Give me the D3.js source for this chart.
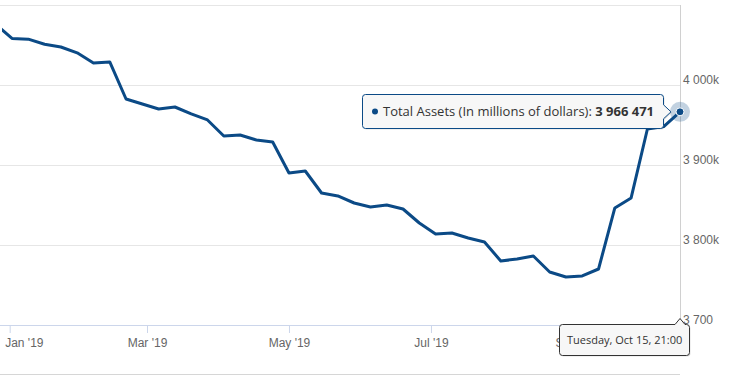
<!DOCTYPE html>
<html>
<head>
<meta charset="utf-8">
<script src="https://cdn.jsdelivr.net/npm/d3@7"></script>
<style>
  body { margin: 0; background: #ffffff; }
  svg { font-family: "Open Sans", "DejaVu Sans", sans-serif; }
</style>
</head>
<body>
<div id="assetsChart"></div>
<script>
// weekly dates (Wednesdays) of the balance sheet
const weekDates = [
  "2018-12-26",
  "2019-01-02", "2019-01-09", "2019-01-16", "2019-01-23", "2019-01-30",
  "2019-02-06", "2019-02-13", "2019-02-20", "2019-02-27",
  "2019-03-06", "2019-03-13", "2019-03-20", "2019-03-27",
  "2019-04-03", "2019-04-10", "2019-04-17", "2019-04-24",
  "2019-05-01", "2019-05-08", "2019-05-15", "2019-05-22", "2019-05-29",
  "2019-06-05", "2019-06-12", "2019-06-19", "2019-06-26",
  "2019-07-03", "2019-07-10", "2019-07-17", "2019-07-24", "2019-07-31",
  "2019-08-07", "2019-08-14", "2019-08-21", "2019-08-28",
  "2019-09-04", "2019-09-11", "2019-09-18", "2019-09-25",
  "2019-10-02", "2019-10-09", "2019-10-16"
];

// total assets, millions of dollars
const totalAssets = [
  4075900,
  4058200, 4057300, 4051000, 4047500, 4040200,
  4027600, 4028800, 3982500, 3976300,
  3970000, 3972500, 3963800, 3956300,
  3936300, 3937500, 3931300, 3928800,
  3890000, 3892500, 3865000, 3861300, 3852500,
  3847500, 3850000, 3845000, 3827500,
  3813800, 3815000, 3808800, 3803800, 3780000,
  3782500, 3786300, 3766300, 3760000,
  3761300, 3770000, 3846300, 3858800,
  3945000, 3948000, 3966471
];

// axis ticks
const xTickDates = ["2019-01-01", "2019-03-01", "2019-05-01", "2019-07-01", "2019-09-01"];
const yTickValues = [3700000, 3800000, 3900000, 4000000, 4100000];
const yTickLabels = ["3 700", "3 800k", "3 900k", "4 000k", ""];

const seriesName = "Total Assets (In millions of dollars)";
const hoverLabel = "Tuesday, Oct 15, 21:00";

//define positional parameters
let svgWidth = 747;
let svgHeight = 375;
let plotLeft = 0;
let plotRight = 680;
let plotTop = 5;
let plotBottom = 325;
let lineColor = "#0b4a86";
let gridColor = "#e6e6e6";
let axisColor = "#ccd6eb";

let parse = d3.utcParse("%Y-%m-%d");
let data = weekDates.map((d, i) => ({date: parse(d), value: totalAssets[i]}));

let svg = d3.select("#assetsChart")
  .append("svg")
  .attr("width", svgWidth)
  .attr("height", svgHeight);

//define scales
let xScale = d3.scaleUtc()
  .domain([parse("2019-01-02"), parse("2019-10-16")])
  .range([12, plotRight]);

let yScale = d3.scaleLinear()
  .domain([3700000, 4100000])
  .range([plotBottom, plotTop]);

//gridlines
svg.append("g")
  .selectAll("line")
  .data(yTickValues.slice(1))
  .join("line")
  .attr("x1", plotLeft)
  .attr("x2", plotRight)
  .attr("y1", d => Math.round(yScale(d)) + 0.5)
  .attr("y2", d => Math.round(yScale(d)) + 0.5)
  .attr("stroke", gridColor);

//right axis line
svg.append("line")
  .attr("x1", plotRight + 0.5)
  .attr("x2", plotRight + 0.5)
  .attr("y1", plotTop)
  .attr("y2", plotBottom)
  .attr("stroke", "#d0d0d0");

//y labels
let yAxis = d3.axisRight(yScale)
  .tickValues(yTickValues)
  .tickSize(0)
  .tickPadding(3)
  .tickFormat((d, i) => yTickLabels[i]);

let yAxisGroup = svg.append("g")
  .attr("transform", `translate(${plotRight},0)`)
  .call(yAxis);
yAxisGroup.select(".domain").remove();
yAxisGroup.selectAll("text")
  .attr("dy", "-0.15em")
  .attr("fill", "#666666")
  .style("font-size", "12px");

//x axis
let xAxis = d3.axisBottom(xScale)
  .tickValues(xTickDates.map(parse))
  .tickSize(8)
  .tickPadding(5)
  .tickFormat(d3.utcFormat("%b '%y"));

let xAxisGroup = svg.append("g")
  .attr("transform", `translate(0,${plotBottom})`)
  .call(xAxis);
xAxisGroup.select(".domain")
  .attr("d", `M${plotLeft},0.5H${plotRight}`)
  .attr("stroke", axisColor);
xAxisGroup.selectAll(".tick line").attr("stroke", axisColor);
xAxisGroup.selectAll("text")
  .attr("fill", "#666666")
  .style("font-size", "12px");
//first label is pushed inside the chart
xAxisGroup.selectAll("text")
  .filter((d, i) => i === 0)
  .attr("text-anchor", "start")
  .attr("x", -5);

//bottom border line
svg.append("line")
  .attr("x1", plotLeft)
  .attr("x2", plotRight)
  .attr("y1", 374.5)
  .attr("y2", 374.5)
  .attr("stroke", "#d6d6d6");

//clip for series
svg.append("clipPath")
  .attr("id", "plotClip")
  .append("rect")
  .attr("x", 2)
  .attr("y", 0)
  .attr("width", plotRight - 2 + 20)
  .attr("height", plotBottom);

//plot line
let line = d3.line()
  .x(d => xScale(d.date))
  .y(d => yScale(d.value));

svg.append("path")
  .datum(data)
  .attr("clip-path", "url(#plotClip)")
  .attr("fill", "none")
  .attr("stroke", lineColor)
  .attr("stroke-width", 3)
  .attr("stroke-linejoin", "round")
  .attr("d", line);

//hovered point
let last = data[data.length - 1];
let px = xScale(last.date);
let py = yScale(last.value);

svg.append("circle")
  .attr("cx", px)
  .attr("cy", py)
  .attr("r", 10)
  .attr("fill", lineColor)
  .attr("fill-opacity", 0.25);

svg.append("circle")
  .attr("cx", px)
  .attr("cy", py)
  .attr("r", 4)
  .attr("fill", lineColor)
  .attr("stroke", "#ffffff")
  .attr("stroke-width", 1);

//tooltip shape with caret, rounded box
function tipPath(x0, y0, x1, y1, r, caret) {
  let p = d3.path();
  p.moveTo(x0 + r, y0);
  if (caret.side === "top") {
    p.lineTo(caret.x - 5, y0);
    p.lineTo(caret.x, caret.tip);
    p.lineTo(caret.x + 5, y0);
  }
  p.lineTo(x1 - r, y0);
  p.arcTo(x1, y0, x1, y0 + r, r);
  if (caret.side === "right") {
    p.lineTo(x1, caret.y - 7);
    p.lineTo(caret.tip, caret.y);
    p.lineTo(x1, caret.y + 7);
  }
  p.lineTo(x1, y1 - r);
  p.arcTo(x1, y1, x1 - r, y1, r);
  p.lineTo(x0 + r, y1);
  p.arcTo(x0, y1, x0, y1 - r, r);
  p.lineTo(x0, y0 + r);
  p.arcTo(x0, y0, x0 + r, y0, r);
  p.closePath();
  return p.toString();
}

function drawTip(pathD, stroke) {
  let g = svg.append("g");
  g.append("path")
    .attr("d", pathD)
    .attr("transform", "translate(1,1)")
    .attr("fill", "#000000")
    .attr("fill-opacity", 0.12);
  g.append("path")
    .attr("d", pathD)
    .attr("fill", "#f7f7f7")
    .attr("stroke", stroke)
    .attr("stroke-width", 1);
  return g;
}

//value tooltip
let tip = drawTip(tipPath(362.5, 94.5, 663.5, 128.5, 3, {side: "right", y: py, tip: 671}), lineColor);
tip.append("circle")
  .attr("cx", 375)
  .attr("cy", 111.5)
  .attr("r", 3)
  .attr("fill", lineColor);
let tipText = tip.append("text")
  .attr("x", 383)
  .attr("y", 116)
  .attr("fill", "#333333")
  .style("font-size", "13px");
tipText.append("tspan").text(seriesName + ": ");
tipText.append("tspan")
  .attr("font-weight", "bold")
  .text(d3.format(",")(last.value).replace(/,/g, " "));

//date label on x axis
let dateTip = drawTip(tipPath(559.5, 324.5, 689.5, 355.5, 3, {side: "top", x: px, tip: 318.5}), "#333333");
dateTip.append("text")
  .attr("x", 567)
  .attr("y", 344)
  .attr("fill", "#333333")
  .style("font-size", "11px")
  .text(hoverLabel);
</script>
</body>
</html>
